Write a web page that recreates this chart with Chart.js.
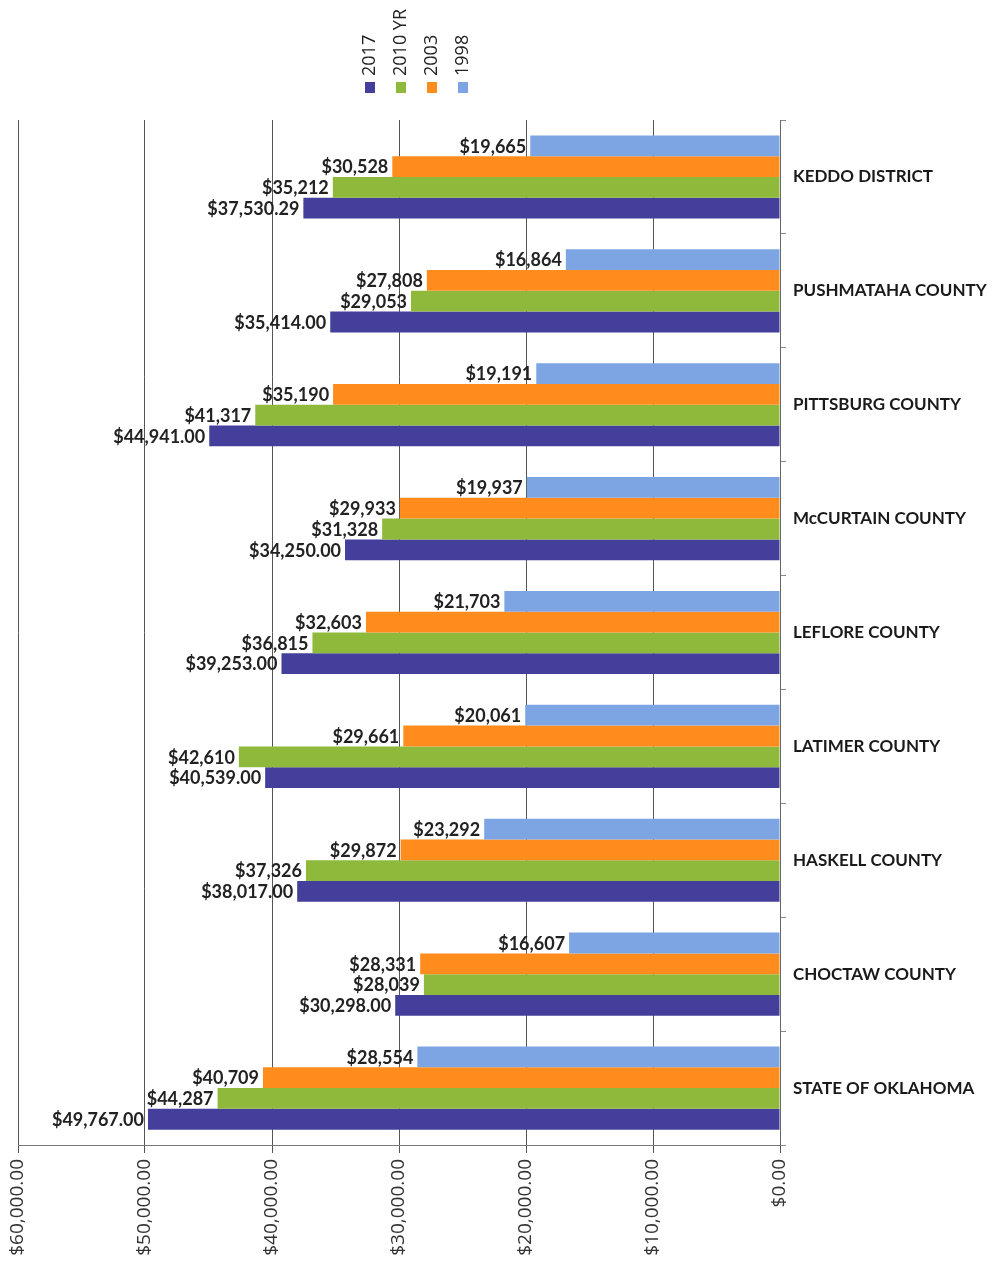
<!DOCTYPE html>
<html>
<head>
<meta charset="utf-8">
<title>Median household income</title>
<script src="https://cdn.jsdelivr.net/npm/chart.js@4/dist/chart.umd.min.js"></script>
<style>
  html, body { margin: 0; padding: 0; background: #fff; }
  #wrap { width: 997px; height: 1264px; position: relative; }
</style>
</head>
<body>
<div id="wrap"><canvas id="incomeChart"></canvas></div>
<script>
// areas, top to bottom
const areas = [
  "KEDDO DISTRICT", "PUSHMATAHA COUNTY", "PITTSBURG COUNTY", "McCURTAIN COUNTY",
  "LEFLORE COUNTY", "LATIMER COUNTY", "HASKELL COUNTY", "CHOCTAW COUNTY", "STATE OF OKLAHOMA"
];

const income1998 = [19665, 16864, 19191, 19937, 21703, 20061, 23292, 16607, 28554];
const income2003 = [30528, 27808, 35190, 29933, 32603, 29661, 29872, 28331, 40709];
const income2010 = [35212, 29053, 41317, 31328, 36815, 42610, 37326, 28039, 44287];
const income2017 = [37530.29, 35414, 44941, 34250, 39253, 40539, 38017, 30298, 49767];

const xTicks = [0, 10000, 20000, 30000, 40000, 50000, 60000];

const money = (v, d) => "$" + v.toLocaleString("en-US", { minimumFractionDigits: d, maximumFractionDigits: d });

// value labels sit just left of each bar end
const barLabels = {
  id: "barLabels",
  afterDatasetsDraw(chart) {
    const ctx = chart.ctx;
    ctx.save();
    ctx.font = "bold 18px Lato";
    ctx.fillStyle = "#222";
    ctx.textAlign = "right";
    ctx.textBaseline = "middle";
    chart.data.datasets.forEach((ds, i) => {
      const meta = chart.getDatasetMeta(i);
      meta.data.forEach((bar, j) => {
        ctx.fillText(money(ds.data[j], ds.decimals), bar.x - 4, bar.y + 1);
      });
    });
    ctx.restore();
  }
};

// vertical legend at the top, newest year first
const sideLegend = {
  id: "sideLegend",
  afterDraw(chart) {
    const ctx = chart.ctx;
    const items = chart.data.datasets.slice().reverse();
    ctx.save();
    ctx.font = "18px 'Open Sans'";
    ctx.textBaseline = "middle";
    ctx.textAlign = "left";
    items.forEach((ds, k) => {
      const x = 370 + k * 31;
      ctx.fillStyle = ds.backgroundColor;
      ctx.fillRect(x - 5, 82, 10, 11);
      ctx.fillStyle = "#222";
      ctx.save();
      ctx.translate(x, 76);
      ctx.rotate(-Math.PI / 2);
      ctx.fillText(ds.label, 0, 0);
      ctx.restore();
    });
    ctx.restore();
  }
};

new Chart(document.getElementById("incomeChart"), {
  type: "bar",
  data: {
    labels: areas,
    datasets: [
      { label: "1998", data: income1998, backgroundColor: "#7da5e3", decimals: 0 },
      { label: "2003", data: income2003, backgroundColor: "#ff8c1c", decimals: 0 },
      { label: "2010 YR", data: income2010, backgroundColor: "#8fb93b", decimals: 0 },
      { label: "2017", data: income2017, backgroundColor: "#433f9b", decimals: 2 }
    ]
  },
  options: {
    indexAxis: "y",
    responsive: true,
    maintainAspectRatio: false,
    animation: false,
    layout: { padding: { top: 120, left: 18, right: 0, bottom: 0 } },
    datasets: { bar: { categoryPercentage: 0.73, barPercentage: 1.0 } },
    plugins: {
      legend: { display: false },
      tooltip: { enabled: false }
    },
    scales: {
      x: {
        reverse: true,
        min: 0,
        max: 60000,
        afterBuildTicks(scale) { scale.ticks = xTicks.map(v => ({ value: v })); },
        afterFit(scale) { scale.height = 119; },
        grid: { color: "#555", lineWidth: 1, tickLength: 8 },
        border: { color: "#777" },
        ticks: {
          minRotation: 90,
          maxRotation: 90,
          padding: 6,
          color: "#333",
          font: { family: "Open Sans", size: 19 },
          callback: v => money(v, 2)
        }
      },
      y: {
        position: "right",
        afterFit(scale) { scale.width = 217; },
        grid: { drawOnChartArea: false, drawTicks: true, tickLength: 6, color: "#888", offset: true },
        border: { color: "#666" },
        ticks: {
          crossAlign: "near",
          padding: 7,
          color: "#1a1a1a",
          font: { family: "Lato", size: 17, weight: "bold" }
        }
      }
    }
  },
  plugins: [barLabels, sideLegend]
});
</script>
</body>
</html>
